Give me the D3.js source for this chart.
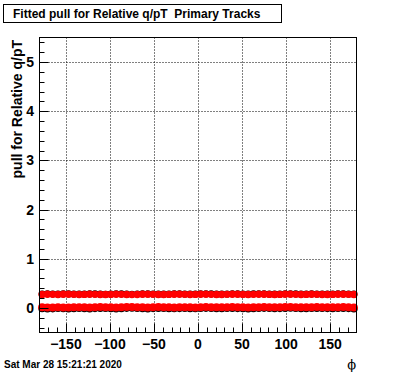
<!DOCTYPE html>
<html>
<head>
<meta charset="utf-8">
<script src="https://cdn.jsdelivr.net/npm/d3@7"></script>
<style>
body { margin: 0; background: white; }
text { font-family: "Liberation Sans", Arial, sans-serif; font-weight: bold; }
</style>
</head>
<body>
<script>
// phi bin centres (degrees)
var phi = [-177,-171,-165,-159,-153,-147,-141,-135,-129,-123,-117,-111,-105,-99,-93,-87,-81,-75,-69,-63,
  -57,-51,-45,-39,-33,-27,-21,-15,-9,-3,3,9,15,21,27,33,39,45,51,57,
  63,69,75,81,87,93,99,105,111,117,123,129,135,141,147,153,159,165,171,177];

// fitted width (upper bands)
var sigmaRed = [0.275,0.278,0.276,0.274,0.277,0.279,0.276,0.273,0.275,0.277,0.276,0.274,0.272,0.275,0.278,0.276,0.273,0.271,0.274,0.277,
  0.279,0.276,0.274,0.273,0.275,0.277,0.278,0.276,0.274,0.275,0.277,0.279,0.276,0.274,0.273,0.276,0.278,0.277,0.275,0.274,
  0.276,0.278,0.277,0.275,0.273,0.275,0.277,0.279,0.276,0.274,0.275,0.277,0.276,0.274,0.273,0.275,0.278,0.277,0.276,0.274];
var sigmaBlack = [0.283,0.287,0.282,0.280,0.286,0.288,0.283,0.279,0.281,0.286,0.284,0.280,0.278,0.282,0.287,0.284,0.280,0.277,0.282,0.286,
  0.288,0.283,0.280,0.279,0.283,0.286,0.287,0.283,0.280,0.282,0.286,0.288,0.284,0.280,0.279,0.283,0.287,0.284,0.282,0.280,
  0.284,0.287,0.286,0.282,0.279,0.283,0.286,0.288,0.284,0.280,0.283,0.286,0.283,0.280,0.279,0.283,0.287,0.286,0.283,0.280];

// fitted mean (lower bands)
var meanRed = [0.012,0.008,0.010,0.014,0.011,0.009,0.013,0.016,0.012,0.010,0.014,0.017,0.015,0.012,0.009,0.013,0.018,0.020,0.016,0.012,
  0.010,0.014,0.017,0.015,0.012,0.011,0.014,0.016,0.013,0.011,0.015,0.018,0.016,0.013,0.012,0.015,0.017,0.014,0.012,0.010,
  0.013,0.016,0.018,0.015,0.012,0.014,0.017,0.019,0.016,0.013,0.012,0.015,0.017,0.016,0.014,0.012,0.015,0.017,0.014,0.010];
var meanBlack = [-0.012,-0.018,-0.014,-0.008,-0.013,-0.016,-0.010,-0.006,-0.012,-0.015,-0.009,-0.005,-0.008,-0.012,-0.017,-0.010,-0.004,-0.002,-0.007,-0.012,
  -0.015,-0.009,-0.005,-0.008,-0.012,-0.013,-0.009,-0.006,-0.010,-0.013,-0.008,-0.004,-0.007,-0.010,-0.012,-0.008,-0.005,-0.009,-0.012,-0.015,
  -0.010,-0.006,-0.004,-0.008,-0.012,-0.009,-0.005,-0.003,-0.007,-0.010,-0.012,-0.008,-0.005,-0.007,-0.009,-0.012,-0.008,-0.005,-0.009,-0.016];

var xTicks = [-150,-100,-50,0,50,100,150];
var yTicks = [0,1,2,3,4,5];

var svg = d3.select('body').append('svg').attr('width',396).attr('height',372);

var x = d3.scaleLinear().domain([-180,180]).range([39.5,356.5]);
var y = d3.scaleLinear().domain([-0.5,5.5]).range([332.5,37.5]);

// title box
svg.append('rect').attr('x',3.5).attr('y',4.5).attr('width',278).attr('height',18)
   .attr('fill','white').attr('stroke','black');
svg.append('text').attr('x',13).attr('y',17.5).attr('font-size',12)
   .style('white-space','pre')
   .text('Fitted pull for Relative q/pT  Primary Tracks');

// grid
svg.selectAll('line.gx').data(xTicks).enter().append('line')
   .attr('class','gx')
   .attr('x1', d => Math.round(x(d))+0.5).attr('x2', d => Math.round(x(d))+0.5)
   .attr('y1', y(-0.5)).attr('y2', y(5.5))
   .attr('stroke','black').attr('stroke-dasharray','1,2');
svg.selectAll('line.gy').data(yTicks).enter().append('line')
   .attr('class','gy')
   .attr('y1', d => Math.round(y(d))+0.5).attr('y2', d => Math.round(y(d))+0.5)
   .attr('x1', x(-180)).attr('x2', x(180))
   .attr('stroke','black').attr('stroke-dasharray','1,2');

// series drawing
function series(vals, color, err, r) {
  var g = svg.append('g');
  g.selectAll('line').data(vals).enter().append('line')
   .attr('x1', (d,i) => x(phi[i])).attr('x2', (d,i) => x(phi[i]))
   .attr('y1', d => y(d - err)).attr('y2', d => y(d + err))
   .attr('stroke', color).attr('stroke-width',1);
  g.selectAll('circle').data(vals).enter().append('circle')
   .attr('cx', (d,i) => x(phi[i])).attr('cy', d => y(d))
   .attr('r', r).attr('fill', color);
}
series(sigmaBlack, 'black', 0.03, 3.6);
series(meanBlack, 'black', 0.03, 3.8);
series(sigmaRed, '#ff0000', 0.01, 3.7);
series(meanRed, '#ff0000', 0.01, 4.0);

// frame
svg.append('rect').attr('x',39.5).attr('y',37.5).attr('width',317).attr('height',295)
   .attr('fill','none').attr('stroke','black');

// y axis ticks (inside)
var yMinor = d3.range(-0.4, 5.5, 0.2);
svg.selectAll('line.ty').data(yMinor).enter().append('line')
   .attr('class','ty')
   .attr('y1', d => Math.round(y(d))+0.5).attr('y2', d => Math.round(y(d))+0.5)
   .attr('x1', 39.5)
   .attr('x2', d => Math.abs(d - Math.round(d)) < 1e-6 ? 48.5 : 44.5)
   .attr('stroke','black');
svg.selectAll('text.ly').data(yTicks).enter().append('text')
   .attr('class','ly')
   .attr('x', 34).attr('y', d => y(d) + 5)
   .attr('text-anchor','end').attr('font-size',14)
   .text(d => d);

// x axis ticks (inside)
var xMinor = d3.range(-170, 180, 10);
svg.selectAll('line.tx').data(xMinor).enter().append('line')
   .attr('class','tx')
   .attr('x1', d => Math.round(x(d))+0.5).attr('x2', d => Math.round(x(d))+0.5)
   .attr('y1', 332.5)
   .attr('y2', d => d % 50 === 0 ? 323.5 : 327.5)
   .attr('stroke','black');
svg.selectAll('text.lx').data(xTicks).enter().append('text')
   .attr('class','lx')
   .attr('x', d => x(d)).attr('y', 349)
   .attr('text-anchor','middle').attr('font-size',14)
   .text(d => d < 0 ? '\u2212' + Math.abs(d) : d);

// axis titles
svg.append('text').attr('transform','translate(22,40) rotate(-90)')
   .attr('text-anchor','end').attr('font-size',14)
   .text('pull for Relative q/pT');
svg.append('text').attr('x',356).attr('y',369)
   .attr('text-anchor','end').attr('font-size',13)
   .style('font-weight','normal')
   .style('font-family','"DejaVu Serif", serif')
   .text('\u03d5');

// date stamp
svg.append('text').attr('x',4).attr('y',368).attr('font-size',10)
   .text('Sat Mar 28 15:21:21 2020');
</script>
</body>
</html>
